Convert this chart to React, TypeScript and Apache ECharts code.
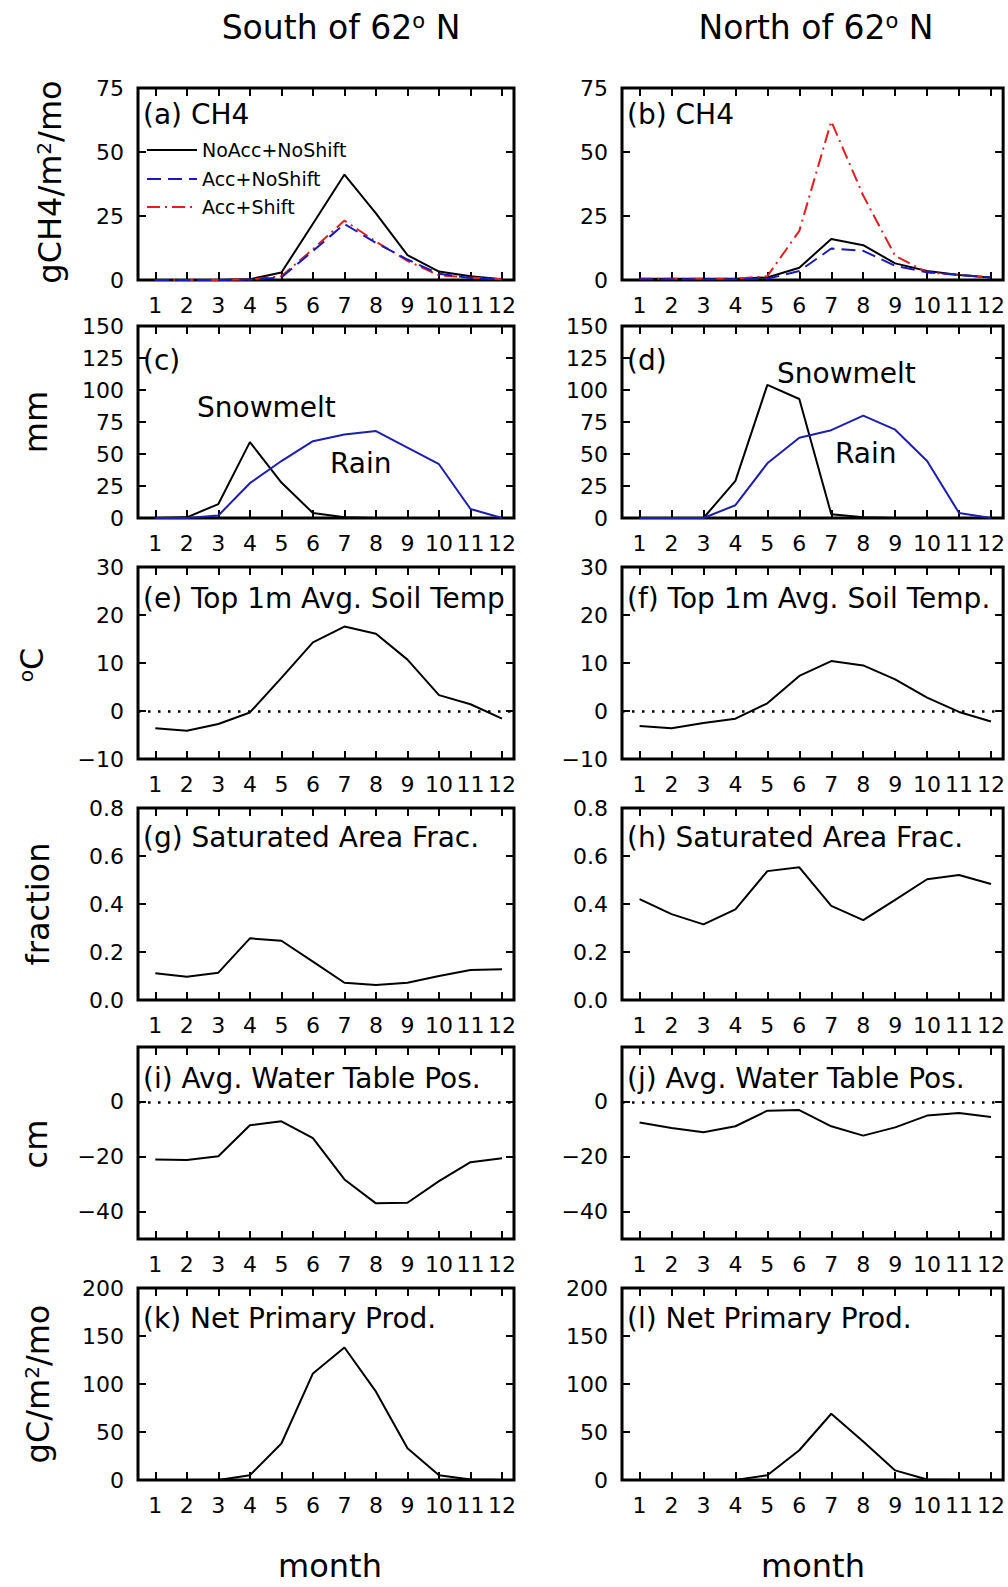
import React, { useEffect, useRef } from 'react';
import * as echarts from 'echarts';

// ---------------- data ----------------
const months = [1, 2, 3, 4, 5, 6, 7, 8, 9, 10, 11, 12];

const ch4SouthNoAccNoShift = [0, 0, 0, 0.3, 2.9, 22, 41.2, 26, 9.7, 3.3, 1.5, 0.3];
const ch4SouthAccNoShift = [0, 0, 0, 0.2, 1, 11.3, 21.9, 14.5, 8, 2.4, 0.8, 0.2];
const ch4SouthAccShift = [0, 0, 0, 0.2, 1.5, 12, 23.2, 15, 7.5, 1.8, 1, 0.3];

const ch4NorthNoAccNoShift = [0.5, 0.5, 0.5, 0.5, 1, 4.8, 16, 13.6, 6.5, 3.5, 2, 1];
const ch4NorthAccNoShift = [0.3, 0.3, 0.3, 0.3, 0.5, 3.5, 12.3, 11.4, 5.5, 3, 2, 1];
const ch4NorthAccShift = [0.5, 0.5, 0.5, 0.5, 1.5, 19.2, 62, 33, 9.4, 3, 2, 1];

const snowmeltSouth = [0, 0.5, 10.9, 59.3, 27.7, 3.9, 0.5, 0, 0, 0, 0, 0];
const rainSouth = [0, 0, 2, 27.2, 44.5, 60, 65.3, 67.9, 55, 42, 7, 0];
const snowmeltNorth = [0, 0, 0, 29, 104, 93, 3, 0.5, 0, 0, 0, 0];
const rainNorth = [0, 0, 0, 10, 42.7, 62.7, 68.6, 80, 69, 44.5, 3.9, 0];

const soilTempSouth = [-3.6, -4.1, -2.7, -0.3, 6.9, 14.3, 17.6, 16.1, 10.7, 3.3, 1.4, -1.6];
const soilTempNorth = [-3.1, -3.6, -2.5, -1.6, 1.6, 7.3, 10.4, 9.5, 6.6, 2.8, -0.2, -2.2];

const satFracSouth = [0.111, 0.097, 0.114, 0.257, 0.247, 0.16, 0.072, 0.063, 0.072, 0.1, 0.125, 0.128];
const satFracNorth = [0.42, 0.358, 0.315, 0.378, 0.537, 0.553, 0.392, 0.333, 0.417, 0.503, 0.521, 0.483];

const waterTableSouth = [-21, -21.2, -19.8, -8.5, -7.1, -13.2, -28.3, -37, -36.8, -28.9, -22, -20.6];
const waterTableNorth = [-7.5, -9.5, -11.1, -8.9, -3.2, -3, -8.9, -12.3, -9.3, -5, -4.1, -5.5];

const nppSouth = [0, 0, 0, 5, 38, 111, 138, 92, 33, 5, 0.5, 0];
const nppNorth = [0, 0, 0, 0, 5, 31, 69, 40, 10, 0.5, 0, 0];

const ticksCH4 = [0, 25, 50, 75];
const ticksWater = [0, 25, 50, 75, 100, 125, 150];
const ticksTemp = [-10, 0, 10, 20, 30];
const ticksFrac = [0, 0.2, 0.4, 0.6, 0.8];
const ticksWTP = [-40, -20, 0];
const ticksNPP = [0, 50, 100, 150, 200];

const legendNames = ['NoAcc+NoShift', 'Acc+NoShift', 'Acc+Shift'];

// ---------------- styles / layout ----------------
const FONT = 'DejaVu Sans';
const BLACK = { color: '#000', width: 2, type: 'solid' as any };
const BLUE_DASH = { color: '#1a1ab8', width: 2, type: [14, 7] as any };
const RED_DASHDOT = { color: '#e0201e', width: 2, type: [13, 5, 2, 5] as any };
const BLUE_SOLID = { color: '#1e1eae', width: 2, type: 'solid' as any };

const colLeft = [138, 622];
const colWidth = [376, 382];
const rowTop = [88, 326, 567, 808, 1047, 1288];
const rowHeight = 192;
const titleY = [114, 360, 598, 837, 1078, 1318];

type SeriesDef = { name: string; data: number[]; style: any };
type PanelDef = {
  title: string;
  min: number;
  max: number;
  ticks: number[];
  fmt?: (v: number) => string;
  zero?: boolean;
  series: SeriesDef[];
};

const minusFmt = (v: number) => (v < 0 ? '\u2212' + Math.abs(v) : String(v));

const panels: PanelDef[] = [
  {
    title: '(a) CH4', min: 0, max: 75, ticks: ticksCH4,
    series: [
      { name: legendNames[0], data: ch4SouthNoAccNoShift, style: BLACK },
      { name: legendNames[2], data: ch4SouthAccShift, style: RED_DASHDOT },
      { name: legendNames[1], data: ch4SouthAccNoShift, style: BLUE_DASH },
    ],
  },
  {
    title: '(b) CH4', min: 0, max: 75, ticks: ticksCH4,
    series: [
      { name: legendNames[0], data: ch4NorthNoAccNoShift, style: BLACK },
      { name: legendNames[2], data: ch4NorthAccShift, style: RED_DASHDOT },
      { name: legendNames[1], data: ch4NorthAccNoShift, style: BLUE_DASH },
    ],
  },
  {
    title: '(c)', min: 0, max: 150, ticks: ticksWater,
    series: [
      { name: 'Snowmelt', data: snowmeltSouth, style: BLACK },
      { name: 'Rain', data: rainSouth, style: BLUE_SOLID },
    ],
  },
  {
    title: '(d)', min: 0, max: 150, ticks: ticksWater,
    series: [
      { name: 'Snowmelt', data: snowmeltNorth, style: BLACK },
      { name: 'Rain', data: rainNorth, style: BLUE_SOLID },
    ],
  },
  {
    title: '(e) Top 1m Avg. Soil Temp', min: -10, max: 30, ticks: ticksTemp, fmt: minusFmt, zero: true,
    series: [{ name: 'Soil Temp South', data: soilTempSouth, style: BLACK }],
  },
  {
    title: '(f) Top 1m Avg. Soil Temp.', min: -10, max: 30, ticks: ticksTemp, fmt: minusFmt, zero: true,
    series: [{ name: 'Soil Temp North', data: soilTempNorth, style: BLACK }],
  },
  {
    title: '(g) Saturated Area Frac.', min: 0, max: 0.8, ticks: ticksFrac, fmt: (v) => v.toFixed(1),
    series: [{ name: 'Sat South', data: satFracSouth, style: BLACK }],
  },
  {
    title: '(h) Saturated Area Frac.', min: 0, max: 0.8, ticks: ticksFrac, fmt: (v) => v.toFixed(1),
    series: [{ name: 'Sat North', data: satFracNorth, style: BLACK }],
  },
  {
    title: '(i) Avg. Water Table Pos.', min: -50, max: 20, ticks: ticksWTP, fmt: minusFmt, zero: true,
    series: [{ name: 'WTP South', data: waterTableSouth, style: BLACK }],
  },
  {
    title: '(j) Avg. Water Table Pos.', min: -50, max: 20, ticks: ticksWTP, fmt: minusFmt, zero: true,
    series: [{ name: 'WTP North', data: waterTableNorth, style: BLACK }],
  },
  {
    title: '(k) Net Primary Prod.', min: 0, max: 200, ticks: ticksNPP,
    series: [{ name: 'NPP South', data: nppSouth, style: BLACK }],
  },
  {
    title: '(l) Net Primary Prod.', min: 0, max: 200, ticks: ticksNPP,
    series: [{ name: 'NPP North', data: nppNorth, style: BLACK }],
  },
];

function buildOption() {
  const grid: any[] = [];
  const xAxis: any[] = [];
  const yAxis: any[] = [];
  const series: any[] = [];
  const graphic: any[] = [];

  const tick = { show: true, inside: true, length: 8, lineStyle: { color: '#000', width: 2 } };
  const noLine = { show: false, onZero: false };

  panels.forEach((p, i) => {
    const row = Math.floor(i / 2);
    const col = i % 2;
    grid.push({
      left: colLeft[col], top: rowTop[row], width: colWidth[col], height: rowHeight,
      show: true, borderColor: '#000', borderWidth: 3, backgroundColor: 'transparent', containLabel: false,
    });
    const xBase = {
      type: 'value', gridIndex: i, min: 0.45, max: 12.38,
      axisLine: noLine, splitLine: { show: false },
    };
    xAxis.push({
      ...xBase, position: 'bottom',
      axisTick: { ...tick, customValues: months },
      axisLabel: { show: true, customValues: months, margin: 14, fontSize: 22, fontFamily: FONT, color: '#000' },
    });
    xAxis.push({
      ...xBase, position: 'top',
      axisTick: { ...tick, customValues: months },
      axisLabel: { show: false },
    });
    const yBase = {
      type: 'value', gridIndex: i, min: p.min, max: p.max,
      axisLine: noLine, splitLine: { show: false },
    };
    yAxis.push({
      ...yBase, position: 'left',
      axisTick: { ...tick, customValues: p.ticks },
      axisLabel: {
        show: true, customValues: p.ticks, margin: 14, fontSize: 22, fontFamily: FONT, color: '#000',
        formatter: (v: number) => (p.fmt ? p.fmt(v) : String(v)),
      },
    });
    yAxis.push({
      ...yBase, position: 'right',
      axisTick: { ...tick, customValues: p.ticks },
      axisLabel: { show: false },
    });

    p.series.forEach((s, k) => {
      const ser: any = {
        type: 'line', name: s.name, xAxisIndex: 2 * i, yAxisIndex: 2 * i,
        data: months.map((m, j) => [m, s.data[j]]),
        symbol: 'none', showSymbol: false, clip: false,
        lineStyle: s.style, itemStyle: { color: s.style.color },
        z: 3 + k,
      };
      if (p.zero && k === 0) {
        ser.markLine = {
          silent: true, symbol: 'none', label: { show: false },
          lineStyle: { type: [2.5, 7.5], color: '#000', width: 2.5 },
          data: [{ yAxis: 0 }],
        };
      }
      series.push(ser);
    });

    graphic.push({
      type: 'text', x: colLeft[col] + 5, y: titleY[row], z: 10,
      style: {
        text: p.title, fontSize: 28, fontFamily: FONT, fill: '#000',
        textAlign: 'left', textVerticalAlign: 'middle',
      },
    });
  });

  const supRich = (size: number, sup: number) => ({
    n: { fontSize: size, fontFamily: FONT, fill: '#000', color: '#000' },
    s: { fontSize: sup, fontFamily: FONT, fill: '#000', color: '#000', verticalAlign: 'top' },
  });

  // column headers
  [
    { text: '{n|South of 62}{s|o}{n| N}', x: 341 },
    { text: '{n|North of 62}{s|o}{n| N}', x: 816 },
  ].forEach((h) => {
    graphic.push({
      type: 'text', x: h.x, y: 27, z: 10,
      style: { text: h.text, rich: supRich(33, 21), textAlign: 'center', textVerticalAlign: 'middle', fill: '#000' },
    });
  });

  // y-axis titles (rotated)
  const yTitles = [
    { text: '{n|gCH4/m}{s|2}{n|/mo}', x: 50, y: 182 },
    { text: '{n|mm}', x: 36, y: 422 },
    { text: '{s|o}{n|C}', x: 32, y: 665 },
    { text: '{n|fraction}', x: 38, y: 904 },
    { text: '{n|cm}', x: 36, y: 1144 },
    { text: '{n|gC/m}{s|2}{n|/mo}', x: 38, y: 1384 },
  ];
  yTitles.forEach((t) => {
    graphic.push({
      type: 'text', x: t.x, y: t.y, rotation: Math.PI / 2, z: 10,
      style: { text: t.text, rich: supRich(32, 20), textAlign: 'center', textVerticalAlign: 'middle', fill: '#000' },
    });
  });

  // x-axis titles
  [330, 813].forEach((x) => {
    graphic.push({
      type: 'text', x, y: 1566, z: 10,
      style: { text: 'month', fontSize: 32, fontFamily: FONT, fill: '#000', textAlign: 'center', textVerticalAlign: 'middle' },
    });
  });

  // in-plot labels for snowmelt / rain
  [
    { text: 'Snowmelt', x: 197, y: 407 },
    { text: 'Rain', x: 330, y: 463 },
    { text: 'Snowmelt', x: 777, y: 373 },
    { text: 'Rain', x: 835, y: 453 },
  ].forEach((t) => {
    graphic.push({
      type: 'text', x: t.x, y: t.y, z: 10,
      style: { text: t.text, fontSize: 28, fontFamily: FONT, fill: '#000', textAlign: 'left', textVerticalAlign: 'middle' },
    });
  });

  // legend in panel (a)
  const legendStyles = [BLACK, BLUE_DASH, RED_DASHDOT];
  const legendY = [150, 179, 207];
  legendNames.forEach((name, k) => {
    const st = legendStyles[k];
    graphic.push({
      type: 'line', z: 10,
      shape: { x1: 147, y1: legendY[k], x2: 197, y2: legendY[k] },
      style: { stroke: st.color, lineWidth: 2, lineDash: Array.isArray(st.type) ? st.type : null },
    });
    graphic.push({
      type: 'text', x: 202, y: legendY[k], z: 10,
      style: { text: name, fontSize: 19, fontFamily: FONT, fill: '#000', textAlign: 'left', textVerticalAlign: 'middle' },
    });
  });

  return {
    animation: false,
    backgroundColor: '#fff',
    textStyle: { fontFamily: FONT, color: '#000' },
    grid, xAxis, yAxis, series, graphic,
  };
}

export default function App() {
  const ref = useRef<HTMLDivElement>(null);
  useEffect(() => {
    document.body.style.margin = '0';
    const chart = echarts.init(ref.current!, null, { renderer: 'svg' });
    chart.setOption(buildOption() as any);
    return () => chart.dispose();
  }, []);
  return (
    <div
      ref={ref}
      style={{ position: 'absolute', left: 0, top: 0, width: 1008, height: 1587, background: '#fff' }}
    />
  );
}
